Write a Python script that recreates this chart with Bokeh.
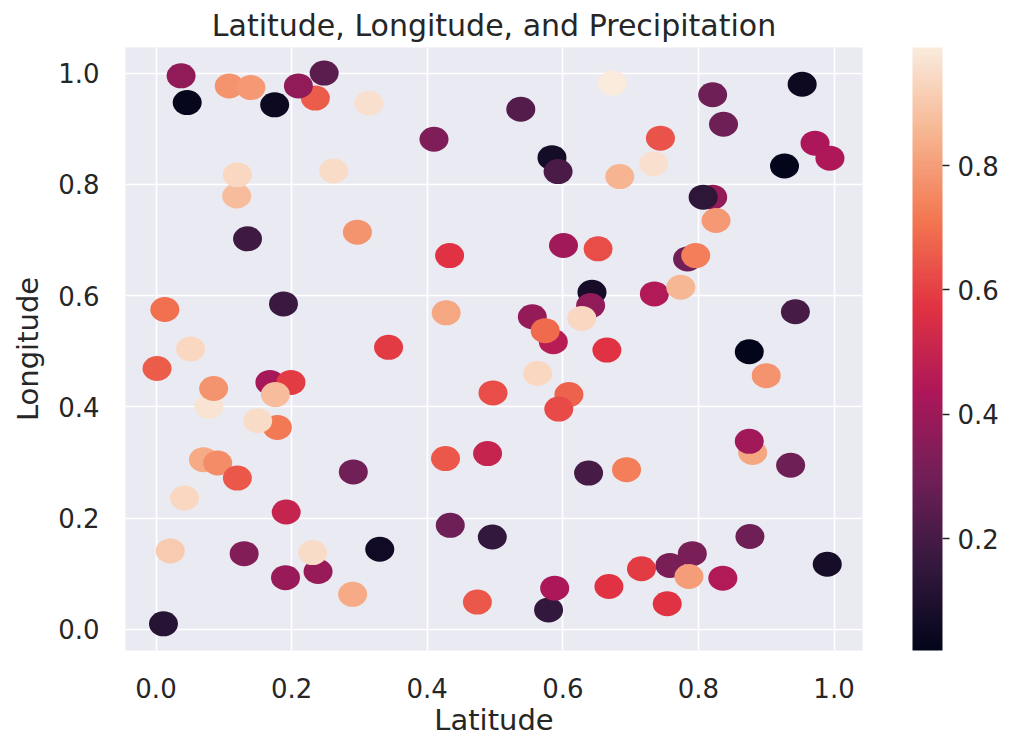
import numpy as np
from bokeh.plotting import figure
from bokeh.models import (ColumnDataSource, LinearColorMapper, ColorBar,
                          FixedTicker, PrintfTickFormatter)
from bokeh.embed import file_html
from bokeh.resources import INLINE

# ---- data ----
latitude = [0.037, 0.046, 0.108, 0.140, 0.175, 0.235, 0.210, 0.248, 0.314, 0.410,
            0.119, 0.120, 0.262, 0.135, 0.297, 0.433, 0.538, 0.673, 0.821, 0.837,
            0.953, 0.972, 0.994, 0.927, 0.744, 0.734, 0.684, 0.584, 0.593, 0.821,
            0.807, 0.826, 0.601, 0.652, 0.784, 0.796, 0.013, 0.188, 0.428, 0.343,
            0.051, 0.0015, 0.078, 0.085, 0.168, 0.199, 0.176, 0.179, 0.150, 0.497,
            0.643, 0.641, 0.628, 0.555, 0.586, 0.574, 0.665, 0.735, 0.774, 0.943,
            0.875, 0.900, 0.563, 0.609, 0.594, 0.880, 0.875, 0.489, 0.070, 0.091,
            0.120, 0.042, 0.291, 0.192, 0.427, 0.434, 0.496, 0.021, 0.130, 0.239,
            0.231, 0.191, 0.330, 0.290, 0.474, 0.011, 0.638, 0.694, 0.936, 0.876,
            0.990, 0.579, 0.588, 0.668, 0.716, 0.754, 0.758, 0.791, 0.786, 0.836]
longitude = [0.995, 0.947, 0.977, 0.974, 0.943, 0.955, 0.977, 1.000, 0.946, 0.881,
             0.779, 0.817, 0.824, 0.702, 0.714, 0.672, 0.935, 0.982, 0.961, 0.908,
             0.980, 0.874, 0.847, 0.833, 0.883, 0.837, 0.814, 0.848, 0.823, 0.777,
             0.777, 0.735, 0.690, 0.684, 0.666, 0.672, 0.575, 0.585, 0.569, 0.507,
             0.504, 0.469, 0.401, 0.433, 0.444, 0.444, 0.422, 0.363, 0.375, 0.425,
             0.606, 0.582, 0.559, 0.562, 0.517, 0.537, 0.502, 0.603, 0.615, 0.571,
             0.499, 0.456, 0.460, 0.422, 0.396, 0.318, 0.338, 0.316, 0.305, 0.299,
             0.272, 0.236, 0.283, 0.211, 0.307, 0.187, 0.166, 0.141, 0.136, 0.104,
             0.138, 0.093, 0.144, 0.063, 0.049, 0.010, 0.281, 0.287, 0.295, 0.167,
             0.117, 0.035, 0.074, 0.077, 0.109, 0.046, 0.115, 0.136, 0.095, 0.092]
precipitation = [0.37, 0.03, 0.78, 0.79, 0.05, 0.66, 0.37, 0.25, 0.96, 0.33,
                 0.87, 0.94, 0.95, 0.18, 0.78, 0.57, 0.23, 0.99, 0.29, 0.29,
                 0.05, 0.43, 0.44, 0.02, 0.64, 0.96, 0.85, 0.07, 0.21, 0.38,
                 0.14, 0.79, 0.41, 0.63, 0.30, 0.73, 0.70, 0.17, 0.82, 0.59,
                 0.94, 0.66, 0.97, 0.78, 0.42, 0.59, 0.87, 0.72, 0.95, 0.63,
                 0.08, 0.37, 0.94, 0.38, 0.46, 0.69, 0.57, 0.45, 0.86, 0.20,
                 0.02, 0.78, 0.94, 0.67, 0.62, 0.82, 0.41, 0.50, 0.83, 0.76,
                 0.65, 0.94, 0.30, 0.50, 0.65, 0.29, 0.15, 0.91, 0.34, 0.39,
                 0.95, 0.39, 0.06, 0.83, 0.65, 0.12, 0.20, 0.73, 0.29, 0.29,
                 0.08, 0.15, 0.43, 0.57, 0.59, 0.57, 0.32, 0.32, 0.80, 0.45]

# ---- "rocket" style palette built from anchor colours ----
anchors = ["#03051a", "#35193e", "#701f57", "#ad1759",
           "#e13342", "#f37651", "#f6b48f", "#faebdd"]
anchor_pos = np.linspace(0, 1, len(anchors))
rgb = np.array([[int(c[i:i + 2], 16) for i in (1, 3, 5)] for c in anchors], float)
tt = np.linspace(0, 1, 256)
palette = []
for t in tt:
    r, g, b = (np.interp(t, anchor_pos, rgb[:, k]) for k in range(3))
    palette.append("#%02x%02x%02x" % (int(round(r)), int(round(g)), int(round(b))))

mapper = LinearColorMapper(palette=palette, low=min(precipitation), high=max(precipitation))

src = ColumnDataSource(dict(lat=latitude, lon=longitude, precip=precipitation))

TXT = "#262626"
FONT = "DejaVu Sans"

p = figure(width=1021, height=740, x_range=(-0.045, 1.042), y_range=(-0.038, 1.046),
           output_backend="svg", toolbar_location=None,
           title="Latitude, Longitude, and Precipitation",
           background_fill_color="#EAEAF2", border_fill_color="white",
           min_border_left=125, min_border_right=159, min_border_top=47,
           min_border_bottom=90)
p.outline_line_color = None

p.ellipse(x="lat", y="lon", width=29, height=25, width_units="screen",
          height_units="screen", fill_color={"field": "precip", "transform": mapper},
          line_color=None, source=src)

ticks = [0.0, 0.2, 0.4, 0.6, 0.8, 1.0]
for ax in (p.xaxis[0], p.yaxis[0]):
    ax.ticker = FixedTicker(ticks=ticks)
    ax.formatter = PrintfTickFormatter(format="%.1f")
    ax.axis_line_color = None
    ax.major_tick_line_color = None
    ax.minor_tick_line_color = None
    ax.major_tick_in = 0
    ax.major_tick_out = 0
    ax.major_label_text_font = FONT
    ax.major_label_text_font_size = "26px"
    ax.major_label_text_color = TXT
    ax.axis_label_text_font = FONT
    ax.axis_label_text_font_size = "29px"
    ax.axis_label_text_font_style = "normal"
    ax.axis_label_text_color = TXT
p.xaxis.axis_label = "Latitude"
p.yaxis.axis_label = "Longitude"
p.xaxis.major_label_standoff = 27
p.yaxis.major_label_standoff = 26
p.xaxis.axis_label_standoff = 2
p.yaxis.axis_label_standoff = 10

p.grid.grid_line_color = "white"
p.grid.grid_line_width = 1.6
p.xgrid.ticker = FixedTicker(ticks=ticks)
p.ygrid.ticker = FixedTicker(ticks=ticks)

p.title.text_font = FONT
p.title.text_font_size = "30px"
p.title.text_font_style = "normal"
p.title.text_color = TXT
p.title.align = "center"

cb = ColorBar(color_mapper=mapper, ticker=FixedTicker(ticks=[0.2, 0.4, 0.6, 0.8]),
              formatter=PrintfTickFormatter(format="%.1f"), width=30,
              padding=0, margin=0, major_tick_in=0, major_tick_out=7,
              major_tick_line_color=TXT, major_tick_line_width=1.5,
              minor_tick_line_color=None,
              major_label_text_font=FONT, major_label_text_font_size="26px",
              major_label_text_color=TXT, label_standoff=8,
              bar_line_color=None, border_line_color=None,
              background_fill_color=None, location=(50, 0))
p.add_layout(cb, "right")

open("out.html", "w").write(file_html(p, INLINE))
